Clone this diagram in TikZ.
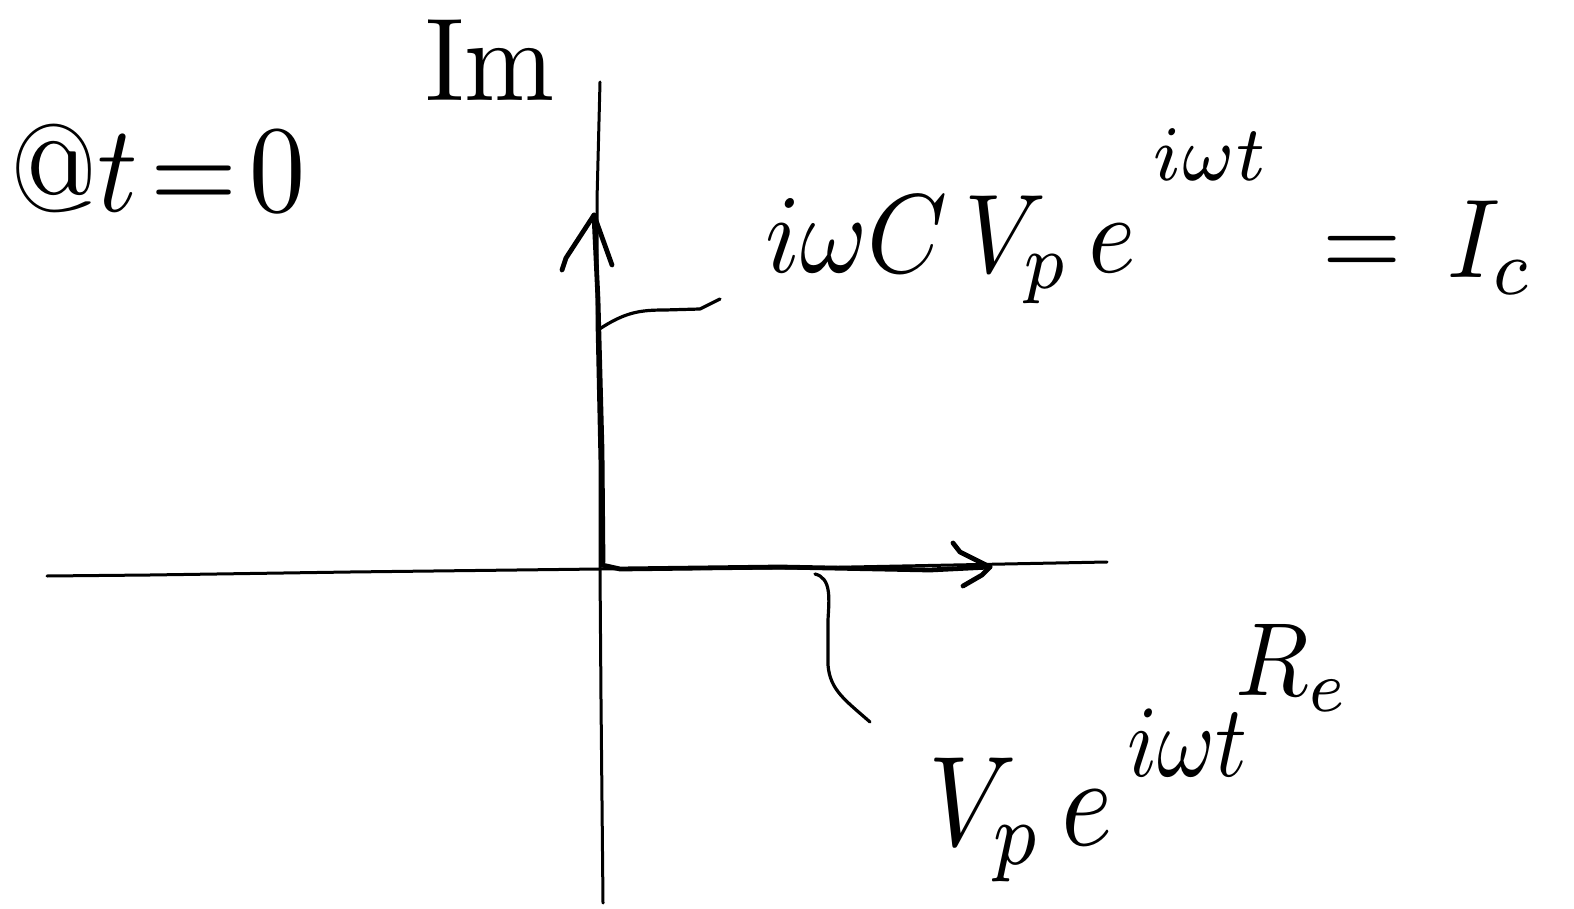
\documentclass[tikz,border=0pt]{standalone}
\usepackage{amsmath}
\begin{document}
\begin{tikzpicture}[x=0.5pt,y=-0.5pt,
  axis/.style={line width=1.5pt,line cap=round,line join=round},
  vec/.style={line width=2.4pt,line cap=round,line join=round},
  lead/.style={line width=1.6pt,line cap=round,line join=round},
  lbl/.style={inner sep=0pt,outer sep=0pt,anchor=center}]
\useasboundingbox (0,0) rectangle (1574,909);
\fill[white] (0,0) rectangle (1574,909);

% axes
\coordinate (xl) at (47,576);
\coordinate (xr) at (1107,562);
\coordinate (yt) at (600,82);
\coordinate (yb) at (603,903);
\coordinate (O) at (600,569);
\draw[axis] (xl) -- (150,575) -- (350,572) -- (O) -- (800,568) -- (xr);
\draw[axis] (yt) -- (597,200) -- (597,320) -- (600,460) -- (O) -- (601,700) -- (yb);

% capacitor current vector (imaginary axis)
\coordinate (It) at (594,215);
\draw[vec] (603,562) -- (602,450) -- (598,300) -- (It);
\draw[vec] (562,270) -- (566,258) -- (It) -- (612,265);

% voltage vector (real axis)
\coordinate (Vt) at (990,567);
\draw[vec] (602,565) -- (620,569) -- (780,567) -- (930,570) -- (Vt);
\draw[vec] (953,543) -- (960,552) -- (Vt) -- (982,575) -- (963,586);

% labels
\node[lbl] (at0) at (158,168) {\scalebox{5.6}[6.2]{$@t\!=\!0$}};
\node[lbl] (im) at (490,60) {\scalebox{5.4}[5.9]{$\mathrm{Im}$}};
\node[lbl] (re) at (1293,668) {\scalebox{4.8}[5.2]{$R_e$}};
\node[lbl,anchor=base west] (ic) at (765,272)
  {\scalebox{5.1}[5.6]{$i\omega C\,V_{p}\,e\,\raisebox{1.9ex}{$\scriptstyle i\omega t$}\;\;\raisebox{-0.5pt}{$=\,I_c$}$}};
\node[lbl,anchor=base west] (vp) at (928,845)
  {\scalebox{5.5}[6.4]{$V_{p}\,e\raisebox{1.25ex}{\scalebox{0.8}{$\,i\omega t$}}$}};

% leader lines
\coordinate (ica) at (720,299);
\coordinate (icv) at (598,330);
\draw[lead] (icv) .. controls (625,312) and (640,310) .. (665,310) -- (700,309) -- (ica);
\coordinate (vpa) at (870,722);
\coordinate (vpv) at (815,574);
\draw[lead] (vpv) .. controls (832,578) and (829,600) .. (828,620) -- (828,665) .. controls (830,690) and (845,700) .. (vpa);
\end{tikzpicture}
\end{document}
